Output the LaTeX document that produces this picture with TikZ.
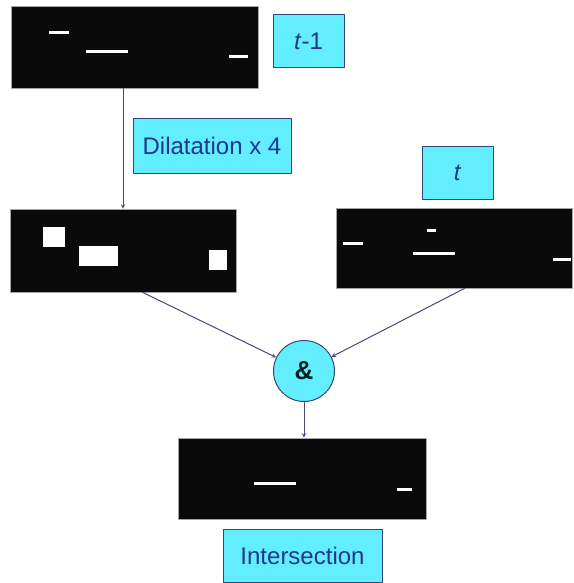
\documentclass[tikz,border=0pt]{standalone}
\usepackage{fontspec}
\setmainfont{Liberation Sans}
\usepackage{tikz}
\usetikzlibrary{arrows}
\definecolor{boxcyan}{RGB}{98,238,255}
\definecolor{boxedge}{RGB}{52,70,120}
\definecolor{txtblue}{RGB}{30,56,140}
\definecolor{arrline}{RGB}{75,72,120}
\definecolor{imgblack}{RGB}{10,10,10}
\tikzset{
  labelbox/.style={draw=boxedge,line width=1pt,fill=boxcyan,text=txtblue,inner sep=0pt,font=\fontsize{24}{24}\selectfont},
  imgbox/.style={draw=gray!70,line width=0.6pt,fill=imgblack,inner sep=0pt},
  andnode/.style={circle,draw=boxedge,line width=1pt,fill=boxcyan,text=black!75!teal,inner sep=0pt,minimum size=61pt,font=\fontsize{26}{26}\selectfont\bfseries},
  conn/.style={->,draw=arrline,line width=1pt}
}
\begin{document}
\begin{tikzpicture}[line cap=round,line join=round,>=stealth,x=1pt,y=-1pt]

\useasboundingbox (0,0) rectangle (573,583);
\node[imgbox,minimum width=247pt,minimum height=82pt] (imgA) at (134.5,47) {};
\node[labelbox,minimum width=71pt,minimum height=53pt] (lblA) at (308.5,41.5) {\textit{t}-1};
\node[labelbox,minimum width=158pt,minimum height=54pt] (dil) at (212,146) {Dilatation x 4};
\node[imgbox,minimum width=226pt,minimum height=83pt] (imgB) at (123,250.5) {};
\node[labelbox,minimum width=71pt,minimum height=53pt] (lblT) at (457.5,172.5) {\textit{t}};
\node[imgbox,minimum width=236pt,minimum height=80pt] (imgT) at (454,248) {};
\node[andnode] (and) at (304,371) {\&};
\node[imgbox,minimum width=248pt,minimum height=81pt] (imgR) at (302,478.5) {};
\node[labelbox,minimum width=159pt,minimum height=53pt] (lblR) at (302.5,555.5) {Intersection};

\fill[white] (49,31.5) rectangle (69,34.5);
\fill[white] (86,50.5) rectangle (128,53.5);
\fill[white] (229,55.5) rectangle (248,58.5);
\fill[white] (43,227) rectangle (65,247);
\fill[white] (79,246) rectangle (118,266);
\fill[white] (209,250) rectangle (227,270);
\fill[white] (343,241.5) rectangle (363,244.5);
\fill[white] (427,228.5) rectangle (436,231.5);
\fill[white] (413,251.5) rectangle (455,254.5);
\fill[white] (553,257.5) rectangle (571,260.5);
\fill[white] (254,481.5) rectangle (296,484.5);
\fill[white] (397,487.5) rectangle (412,490.5);

\draw[conn] (imgB.north |- imgA.south) -- (imgB.north);
\draw[conn] (imgB.-65) -- (and);
\draw[conn] (imgT.-75) -- (and);
\draw[conn] (and.south) -- (and.south |- imgR.north);
\end{tikzpicture}
\end{document}
